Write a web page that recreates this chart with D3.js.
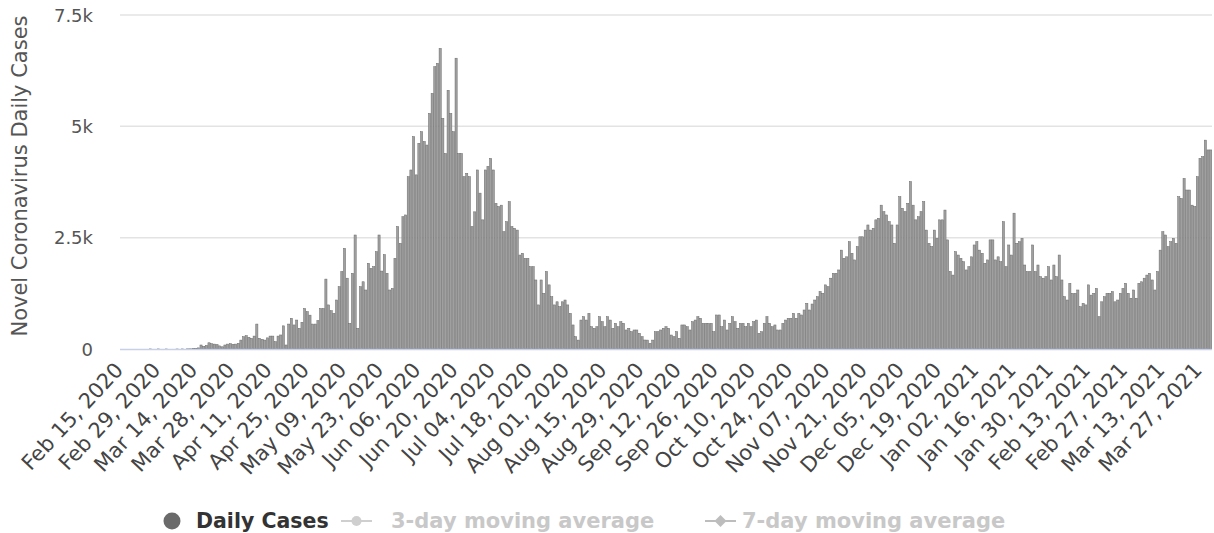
<!DOCTYPE html>
<html>
<head>
<meta charset="utf-8">
<script src="https://cdn.jsdelivr.net/npm/d3@7"></script>
<style>
  body { margin: 0; background: #fff; }
  svg { display: block; font-family: "DejaVu Sans", sans-serif; }
</style>
</head>
<body>
<div id="chart-area"></div>
<script>
// daily new cases, one value per day starting Feb 15, 2020
const startDate = "2020-02-15";

const dailyCases = [
  // Feb 15 - Mar 15
  0,0,0,0,0,0,0,0,0,0,0,2,0,0,2,0,0,1,0,0,0,1,0,2,0,4,5,7,10,25,
  // Mar 16 - May 30
  90,60,80,140,120,110,100,70,50,90,
  110,120,105,110,127,200,277,300,262,240,
  290,560,240,217,200,250,290,290,165,290,
  315,520,90,560,690,540,650,465,600,910,
  840,760,560,560,640,910,910,1570,
  990,860,800,1100,1400,1740,2260,1590,576,1700,
  2560,464,1400,1510,1325,1924,1810,1850,2186,2560,
  1750,2120,1700,1325,1360,2036,2750,2373,2970,3010,
  // Jun
  3870,4020,4770,3910,4620,4880,4660,4580,5290,5740,
  6340,6415,6750,5180,4390,5810,5290,4880,6530,4390,
  4390,3870,3945,3870,2750,3080,4020,3500,2900,4020,4100,
  // Jul - Oct
  4280,4020,3270,3200,3230,2635,2860,3310,2750,2710,
  2670,2110,2150,2036,2036,1850,1850,1550,990,1550,
  1250,1740,1440,1175,990,1060,950,1060,1100,990,
  800,540,277,200,650,
  726,650,800,500,464,500,726,614,500,726,650,
  464,576,500,614,576,427,464,390,427,427,352,277,202,200,127,200,390,390,
  427,464,500,464,314,277,390,240,540,540,500,427,614,650,726,690,576,
  576,576,576,390,764,764,500,650,427,576,726,614,464,576,
  576,500,576,
  500,614,650,352,390,576,726,576,500,540,427,
  // late Oct - Nov
  427,576,650,690,690,800,690,800,764,876,1025,876,1010,1100,1175,1290,
  1250,1440,1400,1590,1700,1700,1775,2220,2036,2070,2410,2150,2000,2300,2520,2520,
  // Nov 21 - Dec 22
  2670,2785,2670,2710,2900,2935,3230,3085,3010,2860,2785,2373,2785,3420,3160,3085,
  3270,3760,3230,2900,2970,3085,3310,2670,2373,2300,2670,2485,2900,2900,3120,2450,
  // Dec 23 - Jan 10
  1740,1660,2186,2110,2036,1960,1775,1850,2070,2336,2410,2220,2150,1925,2000,2450,2450,2000,2070,
  // Jan 11 - Mar 31
  1960,2860,1850,2336,2110,3050,2373,2410,2485,1886,
  1740,1740,2336,1740,1886,1625,1590,1625,1850,1550,1886,1625,
  2110,1550,
  1175,1100,1475,1250,1250,
  1325,950,1025,990,1440,1210,1250,1360,
  726,1060,1175,1250,1250,1290,
  1060,1100,1250,1360,1475,1250,1140,1325,1140,
  1475,1510,1590,1660,1700,1550,1325,1740,2220,2635,2560,2300,
  2410,2485,2373,3420,3380,3830,3570,3570,3230,3200,3870,4280,4320,4690,4470,4470
];

const tickLabels = [
  "Feb 15, 2020","Feb 29, 2020","Mar 14, 2020","Mar 28, 2020","Apr 11, 2020",
  "Apr 25, 2020","May 09, 2020","May 23, 2020","Jun 06, 2020","Jun 20, 2020",
  "Jul 04, 2020","Jul 18, 2020","Aug 01, 2020","Aug 15, 2020","Aug 29, 2020",
  "Sep 12, 2020","Sep 26, 2020","Oct 10, 2020","Oct 24, 2020","Nov 07, 2020",
  "Nov 21, 2020","Dec 05, 2020","Dec 19, 2020","Jan 02, 2021","Jan 16, 2021",
  "Jan 30, 2021","Feb 13, 2021","Feb 27, 2021","Mar 13, 2021","Mar 27, 2021"
];

const yTicks = [0, 2500, 5000, 7500];
const yTickText = ["0", "2.5k", "5k", "7.5k"];

const legendItems = ["Daily Cases", "3-day moving average", "7-day moving average"];

const W = 1214, H = 533;
const plot = {left: 120, right: 1212, top: 15, bottom: 349};

const fmt = d3.utcFormat("%b %d, %Y");
const start = d3.utcParse("%Y-%m-%d")(startDate);
const days = d3.utcDay.range(start, d3.utcDay.offset(start, dailyCases.length));
const data = days.map((d, i) => ({label: fmt(d), value: dailyCases[i]}));

const svg = d3.select("#chart-area").append("svg")
    .attr("width", W)
    .attr("height", H);

var xScale = d3.scaleBand()
    .domain(data.map(d => d.label))
    .range([plot.left, plot.right])
    .padding(0);

var yScale = d3.scaleLinear()
    .domain([0, 7500])
    .range([plot.bottom, plot.top]);

// grid lines
svg.append("g")
  .selectAll("line")
  .data(yTicks.filter(d => d > 0))
  .enter().append("line")
  .attr("x1", plot.left).attr("x2", plot.right)
  .attr("y1", d => yScale(d)).attr("y2", d => yScale(d))
  .attr("stroke", "#e3e3e3").attr("stroke-width", 1.5);

// bars
const bw = xScale.bandwidth();
svg.append("g")
  .selectAll("rect")
  .data(data)
  .enter().append("rect")
  .attr("x", d => xScale(d.label) + 0.25)
  .attr("width", bw - 0.5)
  .attr("y", d => yScale(d.value))
  .attr("height", d => plot.bottom - yScale(d.value))
  .attr("fill", "#a0a0a0")
  .attr("stroke", "#6a6a6a")
  .attr("stroke-width", 0.5);

// baseline
svg.append("line")
  .attr("x1", plot.left).attr("x2", plot.right)
  .attr("y1", plot.bottom + 0.5).attr("y2", plot.bottom + 0.5)
  .attr("stroke", "#c6d0e8").attr("stroke-width", 1.5);

// y axis labels
var yAxis = d3.axisLeft(yScale)
  .tickValues(yTicks)
  .tickFormat((d, i) => yTickText[i])
  .tickSize(0)
  .tickPadding(0);

svg.append("g")
  .attr("transform", "translate(93,0)")
  .call(yAxis)
  .call(g => g.select(".domain").remove())
  .selectAll("text")
  .attr("font-size", 18)
  .attr("font-family", "DejaVu Sans, sans-serif")
  .attr("fill", "#555")
  .attr("dy", "0.35em");

// x axis labels
var xAxis = d3.axisBottom(xScale)
  .tickValues(tickLabels)
  .tickSize(0);

svg.append("g")
  .attr("transform", `translate(0,${plot.bottom})`)
  .call(xAxis)
  .call(g => g.select(".domain").remove())
  .selectAll("text")
  .attr("font-size", 21)
  .attr("font-family", "DejaVu Sans, sans-serif")
  .attr("fill", "#444")
  .attr("text-anchor", "end")
  .attr("dy", null)
  .attr("y", 0)
  .attr("transform", "translate(3,22) rotate(-47)");

// y axis title
svg.append("text")
  .attr("transform", "translate(27,176) rotate(-90)")
  .attr("text-anchor", "middle")
  .attr("font-size", 21)
  .attr("fill", "#555")
  .text("Novel Coronavirus Daily Cases");

// legend
const lg = svg.append("g").attr("font-weight", "bold");
lg.append("circle").attr("cx", 172).attr("cy", 521).attr("r", 8.5).attr("fill", "#6a6a6a");
lg.append("text").attr("x", 196).attr("y", 528).attr("font-size", 20.5).attr("fill", "#333").text(legendItems[0]);

lg.append("line").attr("x1", 341).attr("x2", 372).attr("y1", 521).attr("y2", 521)
  .attr("stroke", "#cfcfcf").attr("stroke-width", 2);
lg.append("circle").attr("cx", 356.5).attr("cy", 521).attr("r", 5).attr("fill", "#cfcfcf");
lg.append("text").attr("x", 391).attr("y", 528).attr("font-size", 21).attr("fill", "#c8c8c8").text(legendItems[1]);

lg.append("line").attr("x1", 705).attr("x2", 736).attr("y1", 521).attr("y2", 521)
  .attr("stroke", "#bdbdbd").attr("stroke-width", 2);
lg.append("path").attr("d", "M720.5,515 L726.5,521 L720.5,527 L714.5,521 Z").attr("fill", "#bdbdbd");
lg.append("text").attr("x", 742).attr("y", 528).attr("font-size", 21).attr("fill", "#c8c8c8").text(legendItems[2]);
</script>
</body>
</html>
